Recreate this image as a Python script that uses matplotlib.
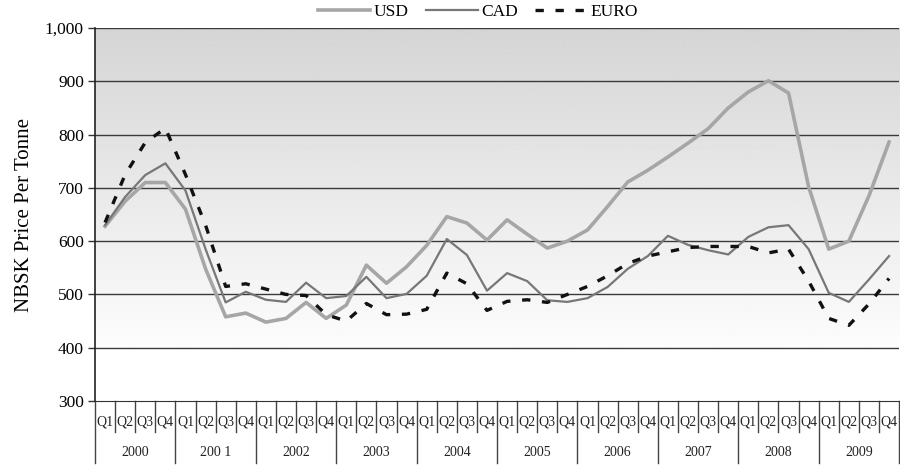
import numpy as np
import matplotlib
matplotlib.use("Agg")
import matplotlib.pyplot as plt
import matplotlib.transforms as mtransforms

plt.rcParams['font.family'] = ['Liberation Serif', 'DejaVu Serif']

# Data
years    = ['2000', '200 1', '2002', '2003', '2004', '2005', '2006', '2007', '2008', '2009']
quarters = ['Q1', 'Q2', 'Q3', 'Q4']

usd = [628, 675, 710, 710,   660, 548, 458, 465,   448, 455, 485, 455,
       480, 555, 521, 552,   592, 646, 634, 602,   640, 613, 587, 600,
       621, 665, 711, 733,   758, 784, 811, 850,   880, 901, 878, 702,
       585, 600, 685, 786]
cad = [630, 683, 724, 746,   695, 585, 485, 505,   490, 486, 522, 493,
       497, 533, 493, 501,   535, 604, 574, 507,   540, 525, 489, 486,
       493, 514, 548, 572,   610, 593, 583, 575,   608, 626, 630, 585,
       503, 486, 528, 572]
euro = [635, 725, 785, 812,  725, 630, 515, 520,   510, 500, 498, 462,
        450, 483, 462, 463,  472, 540, 520, 470,   487, 490, 485, 500,
        515, 535, 558, 572,  580, 588, 590, 590,   590, 578, 585, 525,
        455, 442, 482, 530]

labels = ['USD', 'CAD', 'EURO']

n = len(usd)
x = np.arange(n)

fig = plt.figure(figsize=(9, 4.65), dpi=100)
ax = fig.add_axes([95 / 900, 1 - 401 / 465, 1 - 95 / 900 - 0.001, (401 - 28) / 465])

# gradient background: grey at top fading to white at 400
grad = np.linspace(0.99, 0.835, 256).reshape(-1, 1)
ax.imshow(grad, cmap='gray', vmin=0, vmax=1, aspect='auto', origin='lower',
          extent=(-0.5, n - 0.5, 400, 1000), zorder=0, interpolation='bilinear')

for v in range(400, 1001, 100):
    ax.axhline(v, color='#3a3a3a', lw=1.0, zorder=1)

ax.plot(x, usd, color='#a6a6a6', lw=2.6, label=labels[0], zorder=3)
ax.plot(x, cad, color='#777777', lw=1.6, label=labels[1], zorder=4)
ax.plot(x, euro, color='#111111', lw=2.4, dashes=(2.5, 3.5), label=labels[2], zorder=5)

ax.set_xlim(-0.5, n - 0.5)
ax.set_ylim(300, 1000)
ax.set_yticks(range(300, 1001, 100))
ax.set_yticklabels(['{:,}'.format(v) for v in range(300, 1001, 100)], fontsize=12.5)
ax.tick_params(axis='y', length=5, width=1, color='#333333', pad=3)
ax.set_xticks([])
ax.set_facecolor('white')

for s in ['top', 'right']:
    ax.spines[s].set_visible(False)
ax.spines['bottom'].set_color('#333333')
ax.spines['left'].set_color('#222222')
ax.spines['left'].set_linewidth(1.2)

ax.set_ylabel('NBSK Price Per Tonne', fontsize=15, labelpad=8)

# two-level category axis
trans = mtransforms.blended_transform_factory(ax.transData, ax.transAxes)
for i in range(n + 1):
    b = i - 0.5
    low = -0.166 if i % 4 == 0 else -0.083
    ax.plot([b, b], [0, low], transform=trans, color='#444444', lw=1.0, clip_on=False)
for i in range(n):
    ax.text(i, -0.056, quarters[i % 4], transform=trans, ha='center', va='center',
            fontsize=10, color='#222222')
for j, yr in enumerate(years):
    ax.text(j * 4 + 1.5, -0.137, yr, transform=trans, ha='center', va='center',
            fontsize=10, color='#222222')

fig.legend(loc='center', bbox_to_anchor=(478 / 900, 1 - 12 / 465), ncol=3, frameon=False,
           fontsize=12.5, handlelength=3.0, handletextpad=0.2, columnspacing=1.0,
           borderaxespad=0, borderpad=0)

fig.savefig('out.png', dpi=100)
